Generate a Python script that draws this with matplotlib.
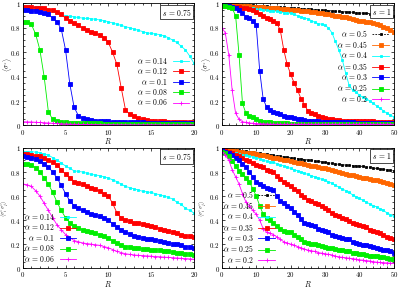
import numpy as np
import matplotlib
matplotlib.use("Agg")
import matplotlib.pyplot as plt
from matplotlib.ticker import AutoMinorLocator, FuncFormatter, MultipleLocator

plt.rcParams['mathtext.fontset'] = 'cm'
plt.rcParams['font.family'] = ['DejaVu Serif']

# ---------------- data ----------------
# top-left: s = 0.75, <sigma^z>, R = 0..20 step 0.5
R_tl = np.arange(0, 20.5, 0.5)
tl_014 = [0.98,0.98,0.975,0.97,0.97,0.96,0.95,0.94,0.92,0.91,0.90,0.895,0.89,0.885,0.88,0.877,0.875,0.87,0.865,0.86,
          0.85,0.84,0.83,0.82,0.81,0.80,0.79,0.78,0.77,0.76,0.754,0.75,0.745,0.735,0.72,0.70,0.68,0.65,0.62,0.57,0.51]
tl_012 = [0.97,0.97,0.97,0.965,0.965,0.96,0.95,0.945,0.93,0.91,0.88,0.86,0.84,0.82,0.80,0.785,0.77,0.755,0.74,0.72,
          0.68,0.60,0.50,0.31,0.13,0.09,0.075,0.06,0.05,0.045,0.04,0.037,0.035,0.033,0.03,0.03,0.028,0.027,0.026,0.025,0.025]
tl_010 = [0.95,0.945,0.94,0.935,0.93,0.92,0.91,0.88,0.85,0.79,0.62,0.34,0.15,0.08,0.06,0.05,0.045,0.04,0.038,0.035,
          0.033,0.03,0.03,0.028,0.027,0.026,0.025,0.024,0.024,0.023,0.022,0.022,0.021,0.021,0.02,0.02,0.02,0.02,0.02,0.02,0.02]
tl_008 = [0.85,0.845,0.83,0.75,0.62,0.40,0.11,0.05,0.035,0.03,0.025,0.022,0.02,0.019,0.018,0.017,0.017,0.016,0.016,0.015,
          0.015,0.015,0.014,0.014,0.013,0.013,0.013,0.012,0.012,0.012,0.011,0.011,0.011,0.011,0.01,0.01,0.01,0.01,0.01,0.01,0.01]
tl_006 = [0.03,0.029,0.028,0.026,0.024,0.022,0.02,0.018,0.016,0.014,0.012,0.011,0.01,0.009,0.008,0.008,0.007,0.007,0.006,0.006,
          0.006,0.006,0.005,0.005,0.005,0.005,0.005,0.005,0.005,0.005,0.005,0.005,0.005,0.005,0.005,0.005,0.005,0.005,0.005,0.005,0.005]
alphas_l = ["0.14", "0.12", "0.1", "0.08", "0.06"]

# top-right: s = 1, <sigma^z>, R = 0..50 step 1
R_tr = np.arange(0, 51, 1)
tr_050 = [0.995,0.994,0.993,0.992,0.991,0.99,0.988,0.987,0.986,0.984,0.982,0.981,0.979,0.977,0.975,0.973,0.971,0.969,0.967,0.965,
          0.963,0.961,0.959,0.957,0.955,0.953,0.951,0.949,0.947,0.945,0.943,0.941,0.939,0.937,0.935,0.933,0.931,0.929,0.927,0.925,
          0.923,0.921,0.919,0.917,0.915,0.913,0.911,0.909,0.907,0.905,0.90]
tr_045 = [0.99,0.99,0.988,0.986,0.984,0.982,0.98,0.978,0.976,0.974,0.972,0.97,0.968,0.966,0.964,0.962,0.96,0.958,0.955,0.952,
          0.95,0.947,0.944,0.941,0.938,0.935,0.932,0.929,0.925,0.92,0.915,0.91,0.905,0.90,0.895,0.89,0.885,0.88,0.875,0.868,
          0.86,0.855,0.85,0.845,0.84,0.83,0.82,0.81,0.80,0.785,0.77]
tr_040 = [0.98,0.98,0.978,0.976,0.974,0.972,0.97,0.968,0.965,0.96,0.955,0.952,0.95,0.945,0.94,0.94,0.935,0.93,0.925,0.92,
          0.92,0.91,0.90,0.89,0.88,0.875,0.86,0.845,0.835,0.83,0.82,0.80,0.76,0.69,0.62,0.54,0.43,0.33,0.29,0.27,
          0.25,0.23,0.22,0.20,0.18,0.16,0.14,0.12,0.10,0.085,0.07]
tr_035 = [0.98,0.978,0.976,0.974,0.972,0.97,0.965,0.96,0.955,0.95,0.93,0.91,0.90,0.88,0.87,0.86,0.84,0.78,0.62,0.50,
          0.42,0.35,0.29,0.22,0.17,0.12,0.10,0.09,0.08,0.07,0.06,0.055,0.05,0.048,0.045,0.04,0.04,0.038,0.037,0.036,
          0.035,0.034,0.034,0.033,0.033,0.032,0.032,0.031,0.031,0.03,0.03]
tr_030 = [0.99,0.985,0.98,0.975,0.965,0.95,0.92,0.89,0.88,0.86,0.82,0.45,0.22,0.15,0.13,0.11,0.10,0.09,0.08,0.07,
          0.065,0.06,0.055,0.05,0.045,0.04,0.038,0.036,0.034,0.032,0.03,0.029,0.028,0.027,0.026,0.025,0.025,0.024,0.024,0.023,
          0.023,0.022,0.022,0.022,0.021,0.021,0.021,0.02,0.02,0.02,0.02]
tr_025 = [0.98,0.978,0.975,0.96,0.90,0.58,0.18,0.10,0.08,0.065,0.05,0.04,0.03,0.027,0.024,0.02,0.019,0.018,0.017,0.016,
          0.015,0.015,0.014,0.014,0.013,0.013,0.013,0.012,0.012,0.012,0.012,0.011,0.011,0.011,0.011,0.011,0.011,0.01,0.01,0.01,
          0.01,0.01,0.01,0.01,0.01,0.01,0.01,0.01,0.01,0.01,0.01]
tr_020 = [0.80,0.76,0.58,0.29,0.10,0.05,0.03,0.025,0.02,0.018,0.015,0.014,0.013,0.012,0.011,0.01,0.01,0.01,0.01,0.01,
          0.01,0.01,0.01,0.01,0.01,0.01,0.01,0.01,0.01,0.01,0.01,0.01,0.01,0.01,0.01,0.01,0.01,0.01,0.01,0.01,
          0.01,0.01,0.01,0.01,0.01,0.01,0.01,0.01,0.01,0.01,0.01]
alphas_r = ["0.5", "0.45", "0.4", "0.35", "0.3", "0.25", "0.2"]

# bottom-left: s = 0.75, correlator, R = 0..20 step 0.5
R_bl = np.arange(0, 20.5, 0.5)
bl_014 = [0.97,0.97,0.97,0.965,0.96,0.95,0.94,0.92,0.90,0.875,0.85,0.83,0.81,0.805,0.80,0.79,0.78,0.775,0.77,0.76,
          0.75,0.735,0.72,0.70,0.68,0.67,0.66,0.65,0.64,0.635,0.63,0.62,0.61,0.60,0.59,0.575,0.55,0.53,0.50,0.48,0.46]
bl_012 = [0.95,0.95,0.94,0.935,0.93,0.915,0.90,0.88,0.86,0.82,0.78,0.75,0.72,0.71,0.70,0.685,0.67,0.655,0.64,0.62,
          0.60,0.54,0.46,0.42,0.40,0.39,0.38,0.375,0.37,0.36,0.35,0.34,0.33,0.32,0.31,0.30,0.29,0.28,0.27,0.265,0.26]
bl_010 = [0.93,0.925,0.92,0.905,0.89,0.87,0.84,0.80,0.75,0.69,0.62,0.56,0.52,0.50,0.48,0.465,0.45,0.44,0.43,0.415,
          0.40,0.37,0.34,0.32,0.30,0.285,0.27,0.26,0.25,0.245,0.24,0.235,0.23,0.22,0.21,0.205,0.20,0.19,0.18,0.175,0.17]
bl_008 = [0.87,0.865,0.86,0.835,0.80,0.75,0.70,0.63,0.55,0.48,0.42,0.38,0.35,0.335,0.32,0.31,0.30,0.29,0.28,0.265,
          0.25,0.23,0.21,0.195,0.18,0.175,0.17,0.165,0.16,0.158,0.155,0.152,0.15,0.145,0.14,0.135,0.13,0.125,0.12,0.115,0.11]
bl_006 = [0.70,0.695,0.68,0.645,0.60,0.54,0.48,0.42,0.36,0.32,0.28,0.255,0.23,0.22,0.21,0.205,0.20,0.195,0.19,0.18,
          0.17,0.155,0.14,0.13,0.12,0.115,0.11,0.107,0.105,0.102,0.10,0.097,0.095,0.092,0.09,0.087,0.085,0.082,0.08,0.077,0.075]

# bottom-right: s = 1, correlator, R = 0..50 step 1
R_br = np.arange(0, 51, 1)
br_050 = [1.0,0.996,0.992,0.988,0.984,0.98,0.976,0.972,0.968,0.964,0.96,0.956,0.952,0.948,0.944,0.94,0.936,0.932,0.928,0.924,
          0.92,0.916,0.912,0.908,0.904,0.90,0.896,0.892,0.888,0.884,0.88,0.876,0.872,0.868,0.864,0.86,0.858,0.856,0.854,0.852,
          0.85,0.846,0.842,0.838,0.834,0.83,0.826,0.822,0.818,0.814,0.81]
br_045 = [0.995,0.99,0.985,0.98,0.975,0.97,0.966,0.962,0.958,0.954,0.95,0.944,0.938,0.932,0.926,0.92,0.914,0.908,0.902,0.896,
          0.89,0.884,0.878,0.872,0.866,0.86,0.854,0.848,0.842,0.836,0.83,0.822,0.814,0.806,0.798,0.79,0.784,0.778,0.772,0.766,
          0.76,0.754,0.748,0.742,0.736,0.73,0.722,0.714,0.706,0.698,0.69]
br_040 = [0.99,0.98,0.97,0.96,0.955,0.95,0.945,0.94,0.93,0.925,0.92,0.91,0.90,0.89,0.885,0.88,0.87,0.86,0.85,0.84,
          0.83,0.82,0.81,0.80,0.79,0.78,0.77,0.76,0.75,0.74,0.73,0.72,0.705,0.69,0.675,0.66,0.645,0.63,0.61,0.595,
          0.58,0.565,0.55,0.535,0.52,0.51,0.495,0.48,0.46,0.445,0.43]
br_035 = [0.99,0.98,0.97,0.96,0.945,0.93,0.915,0.90,0.89,0.875,0.86,0.85,0.84,0.82,0.81,0.80,0.77,0.74,0.72,0.70,
          0.68,0.66,0.64,0.61,0.59,0.57,0.56,0.54,0.53,0.515,0.50,0.48,0.46,0.44,0.43,0.42,0.41,0.39,0.38,0.37,
          0.36,0.35,0.34,0.32,0.31,0.30,0.29,0.28,0.26,0.25,0.24]
br_030 = [0.98,0.97,0.96,0.94,0.92,0.90,0.87,0.84,0.80,0.76,0.72,0.70,0.68,0.67,0.66,0.65,0.60,0.56,0.54,0.52,
          0.50,0.47,0.44,0.41,0.38,0.37,0.36,0.35,0.33,0.32,0.31,0.30,0.28,0.27,0.26,0.25,0.245,0.24,0.22,0.21,
          0.20,0.195,0.19,0.185,0.18,0.17,0.16,0.155,0.15,0.14,0.13]
br_025 = [0.97,0.96,0.93,0.89,0.85,0.81,0.78,0.75,0.72,0.66,0.60,0.52,0.45,0.42,0.40,0.38,0.35,0.33,0.31,0.30,
          0.30,0.28,0.26,0.24,0.22,0.21,0.205,0.20,0.19,0.185,0.18,0.17,0.165,0.16,0.155,0.15,0.145,0.14,0.13,0.125,
          0.12,0.115,0.11,0.105,0.10,0.10,0.095,0.09,0.085,0.08,0.08]
br_020 = [0.97,0.94,0.90,0.82,0.76,0.70,0.62,0.55,0.52,0.48,0.45,0.40,0.33,0.30,0.29,0.28,0.26,0.24,0.22,0.21,
          0.20,0.19,0.18,0.17,0.16,0.15,0.145,0.14,0.13,0.125,0.12,0.115,0.11,0.10,0.095,0.09,0.087,0.083,0.08,0.075,
          0.07,0.067,0.063,0.06,0.055,0.05,0.048,0.046,0.044,0.042,0.04]

# ---------------- styles ----------------
C_L = ['#00ffff', '#ff0000', '#0000ff', '#00ee00', '#ff00ff']
M_L = ['s', 's', 's', 's', '+']
MS_L = [1.6, 2.6, 2.2, 2.2, 2.8]
C_R = ['#000000', '#ff6600', '#00ffff', '#ff0000', '#0000ff', '#00ee00', '#ff00ff']
M_R = ['s', 's', 's', 's', 's', 's', '+']
MS_R = [1.4, 2.2, 1.6, 2.6, 2.4, 2.2, 2.8]
LS_R = [(0, (2, 1.5)), '-', '-', '-', '-', '-', '-']

fig = plt.figure(figsize=(3.99, 2.89), dpi=100)
ax_tl = fig.add_axes([0.057, 0.566, 0.429, 0.422])
ax_tr = fig.add_axes([0.556, 0.566, 0.431, 0.422])
ax_bl = fig.add_axes([0.057, 0.072, 0.429, 0.416])
ax_br = fig.add_axes([0.556, 0.072, 0.431, 0.416])

fmt = FuncFormatter(lambda v, p: r'$%s$' % ('%g' % round(v, 3)))


def style(ax, xmax, xmaj, ylabel, yfs, yx, slabel):
    ax.set_xlim(0, xmax)
    ax.set_ylim(0, 1)
    ax.xaxis.set_major_locator(MultipleLocator(xmaj))
    ax.yaxis.set_major_locator(MultipleLocator(0.2))
    ax.xaxis.set_minor_locator(AutoMinorLocator(5))
    ax.yaxis.set_minor_locator(AutoMinorLocator(4))
    ax.xaxis.set_major_formatter(fmt)
    ax.yaxis.set_major_formatter(fmt)
    ax.tick_params(which='both', direction='in', top=True, right=True, labelsize=5, pad=1.5, width=0.5)
    ax.tick_params(which='major', length=2.5)
    ax.tick_params(which='minor', length=1.3)
    for sp in ax.spines.values():
        sp.set_linewidth(0.6)
    ax.set_xlabel(r'$R$', fontsize=5.5)
    ax.xaxis.set_label_coords(0.5, -0.088)
    ax.set_ylabel(ylabel, fontsize=yfs)
    ax.yaxis.set_label_coords(yx, 0.5)
    ax.text(0.985, 0.975, slabel, transform=ax.transAxes, ha='right', va='top', fontsize=5.5,
            bbox=dict(boxstyle='square,pad=0.25', fc='white', ec='black', lw=0.5))


def plot_set(ax, R, series, alphas, colors, markers, sizes, styles=None):
    for i, (y, a, c, m, ms) in enumerate(zip(series, alphas, colors, markers, sizes)):
        ls = styles[i] if styles else '-'
        ax.plot(R, y, color=c, marker=m, ms=ms, lw=0.6, ls=ls, mew=0.6,
                label=r'$\alpha\,=\,%s$' % a)


ylab_top = r'$\langle\sigma^z\rangle$'
ylab_bot = r'$\langle\sigma^z_i\sigma^z_j\rangle$'

leg_kw = dict(markerfirst=False, frameon=False, fontsize=5.5, handlelength=2.2,
              handletextpad=0.6, labelspacing=0.05, borderaxespad=0.2)

plot_set(ax_tl, R_tl, [tl_014, tl_012, tl_010, tl_008, tl_006], alphas_l, C_L, M_L, MS_L)
style(ax_tl, 20, 5, ylab_top, 5, -0.05, r'$s\,=\,0.75$')
ax_tl.legend(loc='center right', bbox_to_anchor=(1.0, 0.36), **leg_kw)

plot_set(ax_tr, R_tr, [tr_050, tr_045, tr_040, tr_035, tr_030, tr_025, tr_020], alphas_r, C_R, M_R, MS_R, LS_R)
style(ax_tr, 50, 10, ylab_top, 5, -0.05, r'$s\,=\,1$')
ax_tr.legend(loc='center right', bbox_to_anchor=(1.0, 0.49), **leg_kw)

plot_set(ax_bl, R_bl, [bl_014, bl_012, bl_010, bl_008, bl_006], alphas_l, C_L, M_L, MS_L)
style(ax_bl, 20, 5, ylab_bot, 3.8, -0.068, r'$s\,=\,0.75$')
ax_bl.legend(loc='lower left', bbox_to_anchor=(-0.02, 0.0), **leg_kw)

plot_set(ax_br, R_br, [br_050, br_045, br_040, br_035, br_030, br_025, br_020], alphas_r, C_R, M_R, MS_R, LS_R)
style(ax_br, 50, 10, ylab_bot, 3.8, -0.072, r'$s\,=\,1$')
ax_br.legend(loc='lower left', bbox_to_anchor=(-0.02, -0.01), **leg_kw)

fig.savefig('out.png', dpi=100)
